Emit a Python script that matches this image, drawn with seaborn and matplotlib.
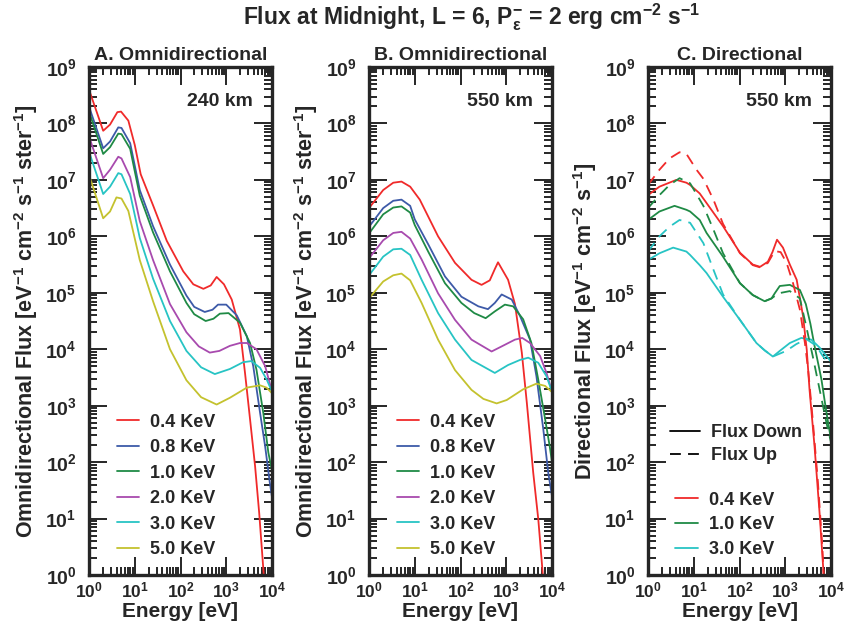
import numpy as np
import matplotlib
matplotlib.use("Agg")
import matplotlib.pyplot as plt
from matplotlib.lines import Line2D
from matplotlib.ticker import LogLocator, NullFormatter
import seaborn as sns

# ---- data (log10 energy [eV], log10 flux) ----
# A. Omnidirectional, 240 km
a04_x = [0.0, 0.31, 0.46, 0.62, 0.70, 0.86, 1.0, 1.13, 1.40, 1.70, 2.06, 2.28, 2.50, 2.66, 2.79, 2.95, 3.12, 3.30, 3.41, 3.52, 3.63, 3.72, 3.82]
a04_y = [8.60, 7.87, 7.98, 8.20, 8.21, 8.05, 7.62, 7.10, 6.55, 5.92, 5.38, 5.15, 5.07, 5.13, 5.28, 5.15, 4.88, 4.35, 3.58, 2.76, 1.93, 1.10, 0.0]
a08_x = [0.0, 0.31, 0.46, 0.64, 0.71, 0.90, 1.11, 1.40, 1.77, 2.13, 2.30, 2.53, 2.70, 2.82, 3.0, 3.23, 3.45, 3.59, 3.74, 3.85, 3.95, 4.0]
a08_y = [8.30, 7.56, 7.68, 7.93, 7.92, 7.65, 6.82, 6.18, 5.50, 4.95, 4.75, 4.66, 4.70, 4.79, 4.79, 4.60, 4.23, 3.70, 2.87, 2.28, 1.65, 1.38]
a10_x = [0.0, 0.31, 0.46, 0.64, 0.71, 0.90, 1.11, 1.40, 1.77, 2.13, 2.30, 2.55, 2.72, 2.86, 3.05, 3.30, 3.52, 3.66, 3.81, 3.92, 4.0]
a10_y = [8.21, 7.46, 7.58, 7.82, 7.81, 7.55, 6.72, 6.07, 5.38, 4.82, 4.62, 4.50, 4.54, 4.63, 4.64, 4.47, 4.11, 3.64, 2.87, 2.17, 1.85]
a20_x = [0.0, 0.31, 0.46, 0.64, 0.71, 0.90, 1.11, 1.40, 1.77, 2.13, 2.40, 2.64, 2.85, 3.08, 3.30, 3.45, 3.66, 3.85, 4.0]
a20_y = [7.77, 7.03, 7.18, 7.41, 7.38, 7.05, 6.27, 5.58, 4.80, 4.30, 4.05, 3.94, 3.97, 4.06, 4.11, 4.11, 4.00, 3.70, 3.25]
a30_x = [0.0, 0.31, 0.46, 0.64, 0.71, 0.90, 1.11, 1.40, 1.77, 2.13, 2.45, 2.75, 3.08, 3.37, 3.55, 3.74, 3.88, 4.0]
a30_y = [7.50, 6.75, 6.88, 7.12, 7.10, 6.75, 5.97, 5.25, 4.50, 3.97, 3.68, 3.56, 3.65, 3.77, 3.79, 3.67, 3.47, 3.25]
a50_x = [0.0, 0.31, 0.46, 0.60, 0.71, 0.86, 1.11, 1.40, 1.77, 2.13, 2.45, 2.79, 3.08, 3.45, 3.74, 3.88, 4.0]
a50_y = [7.09, 6.32, 6.44, 6.69, 6.67, 6.45, 5.58, 4.85, 4.00, 3.45, 3.15, 3.02, 3.14, 3.32, 3.36, 3.32, 3.22]

# B. Omnidirectional, 550 km
b04_x = [0.0, 0.31, 0.53, 0.71, 0.90, 1.11, 1.51, 1.88, 2.24, 2.46, 2.64, 2.75, 2.82, 3.04, 3.19, 3.34, 3.45, 3.59, 3.70, 3.80]
b04_y = [6.50, 6.82, 6.95, 6.97, 6.88, 6.65, 6.00, 5.53, 5.23, 5.14, 5.22, 5.42, 5.54, 5.23, 4.80, 3.94, 3.05, 1.81, 0.99, 0.0]
b08_x = [0.0, 0.31, 0.53, 0.71, 0.90, 1.0, 1.30, 1.66, 2.02, 2.39, 2.60, 2.75, 2.90, 3.12, 3.30, 3.52, 3.66, 3.81, 3.92, 4.0]
b08_y = [6.17, 6.50, 6.63, 6.65, 6.54, 6.30, 5.85, 5.29, 4.93, 4.76, 4.71, 4.82, 4.97, 4.88, 4.59, 4.17, 3.52, 2.58, 1.80, 1.40]
b10_x = [0.0, 0.31, 0.53, 0.71, 0.90, 1.0, 1.30, 1.66, 2.02, 2.30, 2.55, 2.75, 2.97, 3.15, 3.37, 3.55, 3.70, 3.85, 3.95, 4.0]
b10_y = [6.05, 6.39, 6.51, 6.53, 6.42, 6.20, 5.72, 5.17, 4.82, 4.64, 4.55, 4.67, 4.79, 4.76, 4.53, 4.11, 3.46, 2.76, 2.28, 2.00]
b20_x = [0.0, 0.31, 0.53, 0.71, 0.90, 1.15, 1.51, 1.88, 2.24, 2.68, 2.90, 3.19, 3.35, 3.52, 3.74, 3.88, 4.0]
b20_y = [5.61, 5.93, 6.06, 6.08, 5.96, 5.59, 4.99, 4.52, 4.17, 3.96, 4.05, 4.17, 4.20, 4.11, 3.88, 3.58, 3.25]
b30_x = [0.0, 0.31, 0.53, 0.71, 0.90, 1.15, 1.51, 1.88, 2.24, 2.75, 3.04, 3.30, 3.48, 3.70, 3.88, 4.0]
b30_y = [5.31, 5.64, 5.77, 5.78, 5.67, 5.23, 4.64, 4.17, 3.81, 3.58, 3.72, 3.81, 3.85, 3.76, 3.52, 3.25]
b50_x = [0.0, 0.31, 0.53, 0.71, 0.90, 1.15, 1.51, 1.88, 2.24, 2.50, 2.79, 3.01, 3.37, 3.66, 3.85, 4.0]
b50_y = [4.90, 5.20, 5.31, 5.34, 5.22, 4.82, 4.17, 3.63, 3.28, 3.12, 3.04, 3.10, 3.29, 3.39, 3.35, 3.24]

# C. Directional, 550 km (down = solid, up = dashed)
c04d_x = [0.0, 0.25, 0.62, 0.84, 0.92, 1.13, 1.28, 1.64, 2.01, 2.29, 2.45, 2.62, 2.72, 2.82, 2.95, 3.10, 3.25, 3.39, 3.47, 3.53, 3.64, 3.75, 3.84]
c04d_y = [6.73, 6.88, 7.00, 6.95, 6.91, 6.76, 6.59, 6.18, 5.71, 5.50, 5.46, 5.55, 5.72, 5.94, 5.80, 5.50, 5.23, 4.58, 3.99, 3.29, 2.28, 1.10, 0.0]
c04u_x = [0.0, 0.25, 0.47, 0.69, 0.84, 1.06, 1.21, 1.43, 1.64, 2.01, 2.29, 2.45, 2.62, 2.77, 2.90, 3.03, 3.17, 3.32, 3.43, 3.50, 3.60, 3.71, 3.81, 3.84]
c04u_y = [6.91, 7.18, 7.38, 7.49, 7.46, 7.18, 7.02, 6.65, 6.22, 5.70, 5.49, 5.45, 5.53, 5.74, 5.72, 5.53, 5.17, 4.70, 4.11, 3.64, 2.76, 1.69, 0.51, 0.0]
c10d_x = [0.0, 0.25, 0.58, 0.84, 0.92, 1.13, 1.28, 1.64, 2.01, 2.29, 2.55, 2.70, 2.77, 2.88, 3.10, 3.32, 3.45, 3.55, 3.64, 3.79, 3.90, 4.0]
c10d_y = [6.29, 6.44, 6.54, 6.47, 6.44, 6.29, 6.06, 5.64, 5.17, 4.96, 4.85, 4.90, 4.99, 5.12, 5.14, 5.05, 4.80, 4.45, 4.06, 3.47, 2.88, 2.40]
c10u_x = [0.0, 0.25, 0.47, 0.69, 0.92, 1.21, 1.43, 1.64, 2.01, 2.29, 2.55, 2.70, 2.85, 3.10, 3.32, 3.46, 3.60, 3.75, 3.90, 4.0]
c10u_y = [6.50, 6.73, 6.91, 7.03, 6.94, 6.54, 6.12, 5.70, 5.17, 4.96, 4.85, 4.90, 4.99, 5.03, 4.90, 4.40, 3.88, 3.29, 2.70, 2.35]
c30d_x = [0.0, 0.25, 0.55, 0.84, 0.92, 1.13, 1.28, 1.64, 2.01, 2.37, 2.55, 2.73, 2.88, 3.10, 3.35, 3.57, 3.75, 3.96, 4.0]
c30d_y = [5.58, 5.70, 5.80, 5.73, 5.67, 5.49, 5.35, 4.93, 4.52, 4.11, 3.98, 3.87, 3.97, 4.11, 4.20, 4.17, 4.03, 3.82, 3.78]
c30u_x = [0.0, 0.25, 0.47, 0.69, 0.92, 1.21, 1.43, 1.64, 2.01, 2.37, 2.55, 2.73, 3.02, 3.24, 3.46, 3.68, 3.82, 4.0]
c30u_y = [5.73, 6.00, 6.17, 6.29, 6.24, 5.88, 5.41, 4.97, 4.52, 4.11, 3.98, 3.87, 3.97, 4.09, 4.18, 4.06, 3.88, 3.70]

labels = ["0.4 KeV", "0.8 KeV", "1.0 KeV", "2.0 KeV", "3.0 KeV", "5.0 KeV"]
colors = ["#f02a2a", "#3d5aa8", "#1f8a45", "#a84aae", "#27c4c4", "#c4c22e"]
x_decades = [0, 1, 2, 3, 4]
y_decades = [0, 1, 2, 3, 4, 5, 6, 7, 8, 9]

sns.set_style("ticks")
plt.rcParams["font.family"] = ["Liberation Sans", "DejaVu Sans"]
plt.rcParams["font.weight"] = "bold"
plt.rcParams["axes.labelweight"] = "bold"
plt.rcParams["mathtext.default"] = "regular"

fig = plt.figure(figsize=(8.44, 6.37), dpi=100)
lefts = [89, 369, 648]
axs = [fig.add_axes([l / 844, 62 / 637, 183 / 844, 508 / 637]) for l in lefts]

LEG = dict(loc="lower left", frameon=False, fontsize=13, handletextpad=0.6,
           borderpad=0, borderaxespad=0)


def style_axis(ax):
    ax.set_xscale("log")
    ax.set_yscale("log")
    ax.set_xticks(10.0 ** np.array(x_decades))
    ax.set_yticks(10.0 ** np.array(y_decades))
    for a in (ax.xaxis, ax.yaxis):
        a.set_minor_locator(LogLocator(base=10, subs=np.arange(2, 10), numticks=12))
        a.set_minor_formatter(NullFormatter())
    ax.set_xlim(1, 1e4)
    ax.set_ylim(1, 1e9)
    ax.tick_params(which="both", direction="in", top=True, right=True, width=1.4)
    ax.tick_params(which="major", length=13)
    ax.tick_params(which="minor", length=6)
    ax.tick_params(axis="y", which="major", pad=9, labelsize=14)
    ax.tick_params(axis="x", which="major", pad=4, labelsize=12.5)
    for s in ax.spines.values():
        s.set_linewidth(2.4)
    ax.set_xlabel("Energy [eV]", fontsize=15, labelpad=1)


def draw(ax, x, y, color, dashed=False):
    sns.lineplot(x=10 ** np.array(x), y=10 ** np.array(y), color=color, linewidth=1.3,
                 estimator=None, sort=False, ax=ax)
    if dashed:
        ax.lines[-1].set_dashes((6, 4))


panel_a = [(a04_x, a04_y), (a08_x, a08_y), (a10_x, a10_y), (a20_x, a20_y), (a30_x, a30_y), (a50_x, a50_y)]
panel_b = [(b04_x, b04_y), (b08_x, b08_y), (b10_x, b10_y), (b20_x, b20_y), (b30_x, b30_y), (b50_x, b50_y)]

for ax, data, alt, title in [(axs[0], panel_a, "240 km", "A. Omnidirectional"),
                             (axs[1], panel_b, "550 km", "B. Omnidirectional")]:
    for (x, y), c in zip(data, colors):
        draw(ax, x, y, c)
    style_axis(ax)
    ax.set_ylabel("Omnidirectional Flux [eV$^{-1}$ cm$^{-2}$ s$^{-1}$ ster$^{-1}$]", fontsize=15.5, labelpad=4)
    ax.set_title(title, fontsize=14, fontweight="bold", pad=5)
    ax.text(0.896, 0.932, alt, transform=ax.transAxes, ha="right", va="center", fontsize=14, fontweight="bold")
    handles = [Line2D([], [], color=c, lw=1.3) for c in colors]
    ax.legend(handles, labels, bbox_to_anchor=(0.151, 0.033), handlelength=1.26,
              labelspacing=0.47, **LEG)

ax = axs[2]
for (x, y), c in zip([(c04d_x, c04d_y), (c10d_x, c10d_y), (c30d_x, c30d_y)], [colors[0], colors[2], colors[4]]):
    draw(ax, x, y, c)
for (x, y), c in zip([(c04u_x, c04u_y), (c10u_x, c10u_y), (c30u_x, c30u_y)], [colors[0], colors[2], colors[4]]):
    draw(ax, x, y, c, dashed=True)
style_axis(ax)
ax.set_ylabel("Directional Flux [eV$^{-1}$ cm$^{-2}$ s$^{-1}$]", fontsize=15.5, labelpad=4)
ax.set_title("C. Directional", fontsize=14, fontweight="bold", pad=5)
ax.text(0.896, 0.932, "550 km", transform=ax.transAxes, ha="right", va="center", fontsize=14, fontweight="bold")
style_handles = [Line2D([], [], color="black", lw=1.3),
                 Line2D([], [], color="black", lw=1.3, dashes=(6, 4))]
leg1 = ax.legend(style_handles, ["Flux Down", "Flux Up"], bbox_to_anchor=(0.12, 0.218),
                 handlelength=1.67, labelspacing=0.34, **LEG)
ax.add_artist(leg1)
color_handles = [Line2D([], [], color=c, lw=1.3) for c in [colors[0], colors[2], colors[4]]]
ax.legend(color_handles, ["0.4 KeV", "1.0 KeV", "3.0 KeV"], bbox_to_anchor=(0.148, 0.033),
          handlelength=1.26, labelspacing=0.43, **LEG)

fig.text(0.559, 0.973, "Flux at Midnight, L = 6, P$_{ε}^{-}$ = 2 erg cm$^{-2}$ s$^{-1}$",
         ha="center", va="center", fontsize=16.5, fontweight="bold")

fig.savefig("out.png", dpi=100)
